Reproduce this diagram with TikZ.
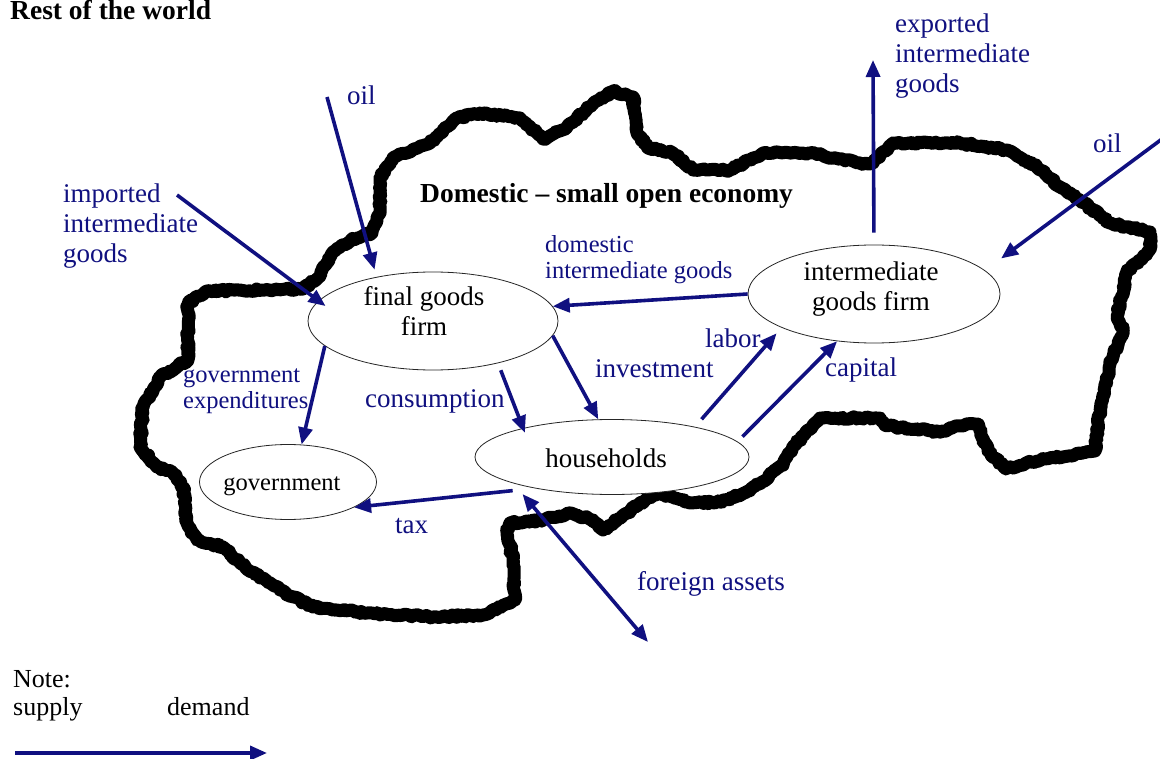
\documentclass[tikz,border=0pt]{standalone}
\usepackage{fontspec}
\setmainfont{Liberation Serif}
\usetikzlibrary{arrows.meta,shapes.geometric,decorations.pathmorphing}
\definecolor{navyb}{RGB}{16,16,128}
\begin{document}
\begin{tikzpicture}[x=1pt,y=-1pt,
  blob/.style={line width=13pt, line join=round, line cap=round, decorate,
    decoration={random steps,segment length=2.5pt,amplitude=1.3pt}},
  ell/.style={ellipse, draw=black!85, line width=0.8pt, fill=white, inner sep=0pt},
  arr/.style={draw=navyb, line width=3.6pt, -{Triangle[length=17pt,width=14pt]}},
  dblarr/.style={draw=navyb, line width=3.6pt, {Triangle[length=17pt,width=14pt]}-{Triangle[length=17pt,width=14pt]}},
  lbl/.style={font=\fontsize{27}{30}\selectfont, text=navyb, inner sep=0pt, align=left},
  slbl/.style={font=\fontsize{24.5}{26}\selectfont, text=navyb, inner sep=0pt, align=left},
  ntxt/.style={font=\fontsize{27}{30}\selectfont, inner sep=0pt, align=center},
  legtxt/.style={font=\fontsize{26}{28}\selectfont, inner sep=0pt},
  ttl/.style={font=\fontsize{27.5}{30}\selectfont\bfseries, inner sep=0pt}]
\useasboundingbox (0,0) rectangle (1160,759);
\fill[white] (0,0) rectangle (1160,759);

% outline of the domestic economy
\draw[blob] (207,291) -- (303,289) -- (318,278) -- (333,252) -- (353,239) -- (372,233)
 -- (380,210) -- (380,178) -- (393,158) -- (430,143) -- (457,118) -- (480,113)
 -- (520,118) -- (543,139) -- (567,127) -- (593,104) -- (613,91) -- (633,97)
 -- (637,133) -- (647,147) -- (673,153) -- (693,170) -- (730,170) -- (763,153)
 -- (810,153) -- (860,163) -- (873,163) -- (893,143) -- (960,143) -- (1007,150)
 -- (1037,167) -- (1060,187) -- (1080,200) -- (1110,223) -- (1150,232) -- (1150,250)
 -- (1127,272) -- (1117,317) -- (1123,330) -- (1110,365) -- (1100,408) -- (1095,451)
 -- (1031,462) -- (1006,469) -- (988,451) -- (977,424) -- (959,426) -- (941,432)
 -- (887,426) -- (880,418) -- (822,418) -- (808,430) -- (795,445) -- (782,465)
 -- (762,482) -- (745,493) -- (720,502) -- (690,503) -- (660,493) -- (645,500)
 -- (627,513) -- (603,530) -- (593,520) -- (570,513) -- (543,520) -- (510,523)
 -- (507,532) -- (513,560) -- (515,600) -- (483,615) -- (433,617) -- (367,613)
 -- (313,607) -- (280,590) -- (260,577) -- (240,563) -- (223,547) -- (197,540)
 -- (187,523) -- (183,487) -- (173,473) -- (157,467) -- (140,447) -- (143,407)
 -- (160,377) -- (188,360) -- (188,303) -- cycle;

% titles
\node[ttl, anchor=base west] (row) at (10,20) {Rest of the world};
\node[ttl, anchor=base west] (dom) at (420,203) {Domestic -- small open economy};

% agents
\node[ell, minimum width=250pt, minimum height=98pt] (fg) at (433,321) {};
\node[ell, minimum width=252pt, minimum height=98pt] (ig) at (874,294) {};
\node[ell, minimum width=274pt, minimum height=75pt] (hh) at (612,457) {};
\node[ell, minimum width=177pt, minimum height=75pt] (gov) at (288,482) {};
\node[ntxt, anchor=north] (fgt) at (424,284) {\strut final goods\\\strut firm};
\node[ntxt, anchor=north] (igt) at (871,259) {\strut intermediate\\\strut goods firm};
\node[ntxt, anchor=base] (hht) at (606,467) {households};
\node[ntxt, anchor=base, font=\fontsize{24.5}{26}\selectfont] (govt) at (282,490) {government};

% flows
\coordinate (oilLs) at (327,97);
\draw[arr, shorten >=7.5pt] (oilLs) -- (fg.142.1);
\coordinate (imps) at (177,195);
\draw[arr, shorten >=-8.7pt] (imps) -- (fg.170.5);
\draw[arr] (fg.-167.5) -- (gov.70.3);
\draw[arr, shorten <=7.5pt, shorten >=-5pt] (fg.-33.2) -- (hh.162.1);
\draw[arr] (fg.-7.3) -- (hh.110.7);
\draw[arr] (ig.west) -- (fg.7.6);
\draw[arr, shorten <=10pt, shorten >=7.5pt] (hh.20.8) -- (ig.200);
\draw[arr, shorten <=7pt] (hh.7.8) -- (ig.232.6);
\draw[arr, shorten <=22pt] (hh.202.2) -- (gov.-21.4);
\coordinate (faT) at (648,642);
\draw[dblarr, shorten >=14pt] (faT) -- (hh.195.7);
\coordinate (expT) at (873,60);
\draw[arr, shorten <=12pt] (ig.north) -- (expT);
\coordinate (oilRs) at (1162,139);
\draw[arr, shorten >=20pt] (oilRs) -- (ig.12.4);

% flow labels
\node[lbl, anchor=base west] (oilL) at (347,105) {oil};
\node[lbl, anchor=north west] (impL) at (63,181) {\strut imported\\\strut intermediate\\\strut goods};
\node[lbl, anchor=north west] (expL) at (895,11) {\strut exported\\\strut intermediate\\\strut goods};
\node[lbl, anchor=base west] (oilR) at (1093,153) {oil};
\node[slbl, anchor=north west] (domL) at (545,233.8) {\strut domestic\\\strut intermediate goods};
\node[slbl, anchor=north west] (gexL) at (183,363.8) {\strut government\\\strut expenditures};
\node[lbl, anchor=base west] (conL) at (365,407) {consumption};
\node[lbl, anchor=base west] (invL) at (595,378) {investment};
\node[lbl, anchor=base west] (labL) at (705,348) {labor};
\node[lbl, anchor=base west] (capL) at (825,377) {capital};
\node[lbl, anchor=base west] (taxL) at (395,533) {tax};
\node[lbl, anchor=base west] (faL) at (637,590) {foreign assets};

% legend
\node[legtxt, anchor=base west] (note) at (13,687) {Note:};
\node[legtxt, anchor=base west] (sup) at (13,715) {supply};
\node[legtxt, anchor=base west] (dem) at (167,715) {demand};
\coordinate (legA) at (15,753);
\coordinate (legB) at (267,753);
\draw[arr] (legA) -- (legB);
\end{tikzpicture}
\end{document}
